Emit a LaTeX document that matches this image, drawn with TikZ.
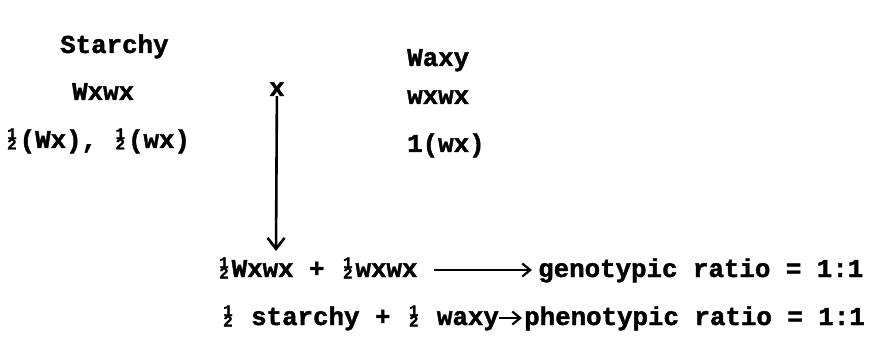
\documentclass[tikz,border=0pt]{standalone}
\usepackage{fontspec}
\setmainfont{Liberation Mono}[BoldFeatures={FakeBold=1.5}]
\usetikzlibrary{arrows.meta}
\newcommand\hf{\makebox[0.6em][c]{\fontsize{16pt}{16pt}\selectfont\rlap{\raisebox{9pt}{1}}\raisebox{-1.5pt}{2}}}
\begin{document}
\begin{tikzpicture}[x=1pt,y=1pt,
  txt/.style={inner sep=0pt, anchor=base west, font=\fontsize{25.8pt}{30pt}\selectfont\bfseries},
  harr/.style={-{Straight Barb[length=8pt,width=13pt,line width=2.2pt]}, line width=2.2pt},
  varr/.style={-{Straight Barb[length=11pt,width=17pt,line width=2.6pt]}, line width=2.6pt}]
\useasboundingbox (0,0) rectangle (869,351);
\node[txt] (st) at (60,298) {Starchy};
\node[txt] (wa) at (407,285) {Waxy};
\node[txt] (p1) at (72,251) {Wxwx};
\node[txt] (cr) at (269,255) {x};
\node[txt] (p2) at (407,247) {wxwx};
\node[txt] (g1) at (4,203) {\hf(Wx), \hf(wx)};
\node[txt] (g2) at (407,199) {1(wx)};
\coordinate (tip) at (276,100);
\draw[varr] (cr) -- (tip);
\node[txt] (r1a) at (216,74) {\hf Wxwx + \hf wxwx};
\node[txt] (r1b) at (538,74) {genotypic ratio = 1:1};
\node[txt] (r2a) at (220,26) {\hf{} starchy + \hf{} waxy};
\node[txt] (r2b) at (524,26) {phenotypic ratio = 1:1};
\draw[harr] ([xshift=16pt,yshift=7pt]r1a.base east) -- ([xshift=-6pt,yshift=7pt]r1b.base west);
\draw[harr] ([xshift=0pt,yshift=7pt]r2a.base east) -- ([xshift=-2pt,yshift=7pt]r2b.base west);
\end{tikzpicture}
\end{document}
